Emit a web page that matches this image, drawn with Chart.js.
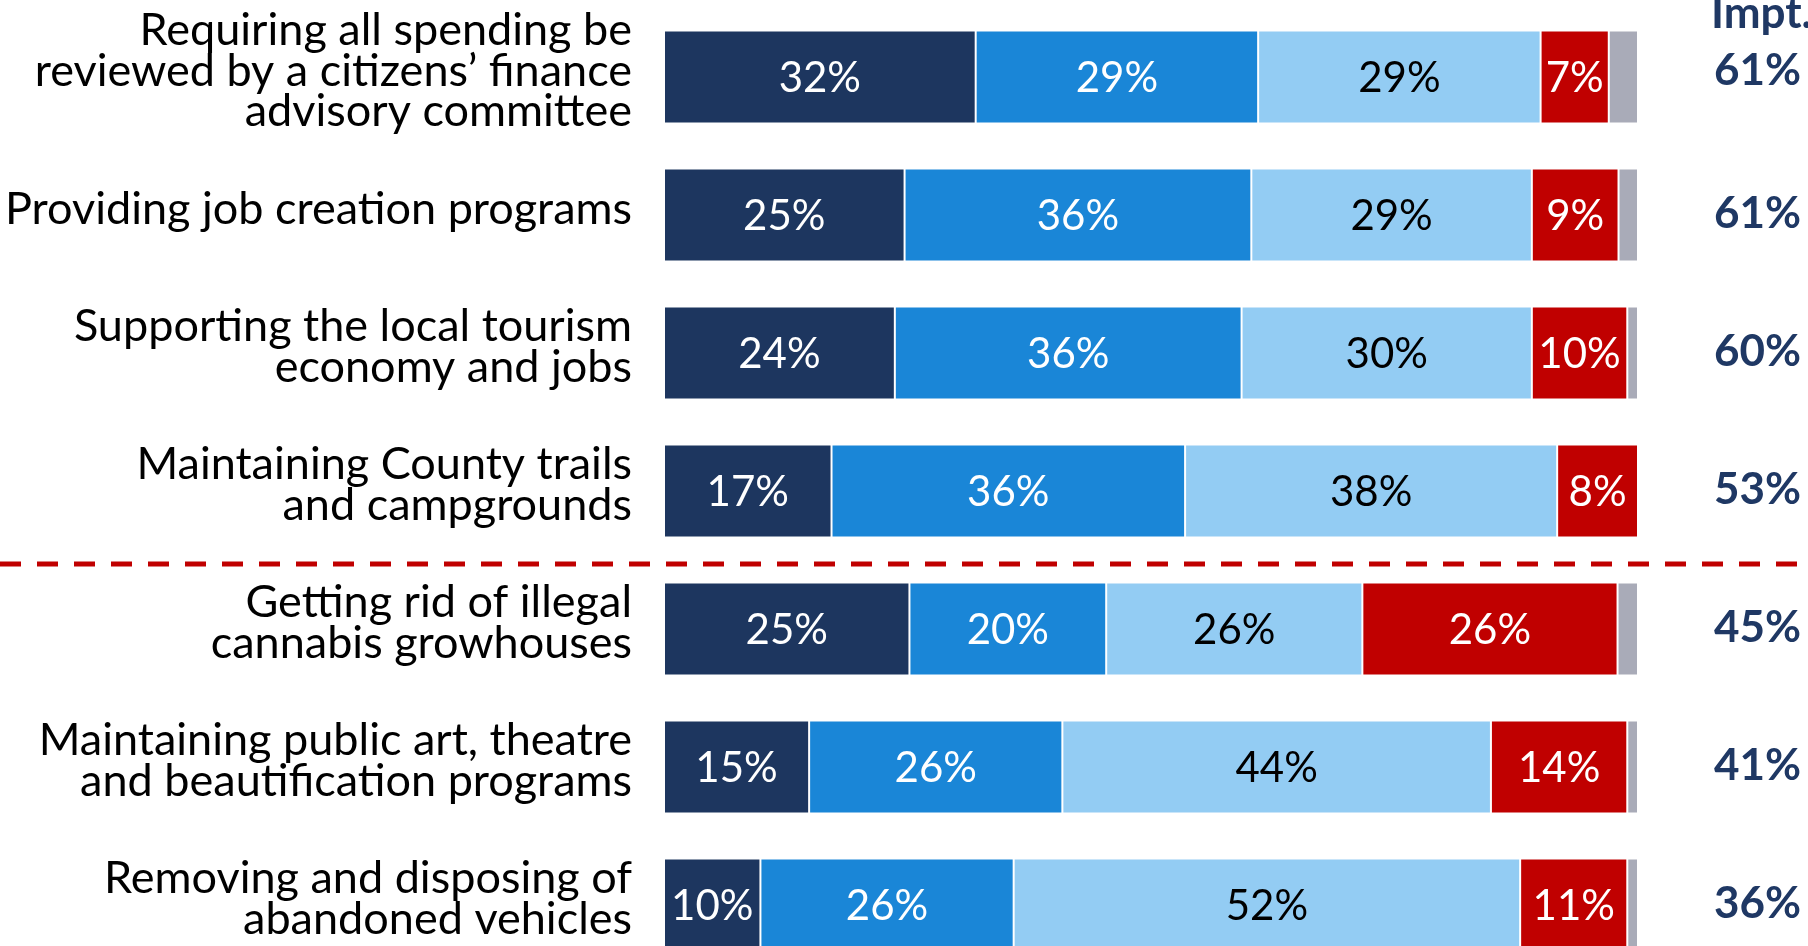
<!DOCTYPE html>
<html>
<head>
<meta charset="utf-8">
<script src="https://cdn.jsdelivr.net/npm/chart.js@4"></script>
<style>
  html, body { margin: 0; padding: 0; background: #fff; overflow: hidden; }
  #wrap { position: relative; width: 1808px; height: 980px; }
</style>
</head>
<body>
<div id="wrap"><canvas id="chart"></canvas></div>
<script>
const categories = [
  ["Requiring all spending be", "reviewed by a citizens\u2019 finance", "advisory committee"],
  "Providing job creation programs",
  ["Supporting the local tourism", "economy and jobs"],
  ["Maintaining County trails", "and campgrounds"],
  ["Getting rid of illegal", "cannabis growhouses"],
  ["Maintaining public art, theatre", "and beautification programs"],
  ["Removing and disposing of", "abandoned vehicles"]
];

// share of respondents per answer
const extremelyImportant = [32.0, 24.7, 23.7, 17.2, 25.2, 14.9, 9.9];
const veryImportant      = [29.0, 35.6, 35.6, 36.3, 20.2, 26.0, 26.0];
const somewhatImportant  = [29.0, 28.8, 29.8, 38.2, 26.3, 44.0, 52.0];
const notImportant       = [7.0, 8.9, 9.8, 8.3, 26.2, 14.0, 11.0];
const dontKnow           = [3.0, 2.0, 1.1, 0.0, 2.1, 1.1, 1.1];

// "Impt." column on the right
const totalImportant = [61, 61, 60, 53, 45, 41, 36];

const NAVY = "#1F3864";
const labelFont = "Lato, 'Open Sans', sans-serif";

const segmentText = {
  id: "segmentText",
  afterDatasetsDraw(chart) {
    const ctx = chart.ctx;
    ctx.save();
    ctx.textAlign = "center";
    ctx.textBaseline = "middle";
    ctx.font = "42px " + labelFont;
    chart.data.datasets.forEach((ds, di) => {
      if (!ds.textColor) return;
      const meta = chart.getDatasetMeta(di);
      meta.data.forEach((bar, i) => {
        const v = ds.data[i];
        if (!v) return;
        ctx.fillStyle = ds.textColor;
        ctx.fillText(Math.round(v) + "%", (bar.x + bar.base) / 2, bar.y + 1);
      });
    });

    // dashed divider between the 4th and 5th rows
    const y = chart.scales.y;
    const lineY = (y.getPixelForValue(3) + y.getPixelForValue(4)) / 2 + 4;
    ctx.strokeStyle = "#C00000";
    ctx.lineWidth = 5;
    ctx.setLineDash([21, 16]);
    ctx.beginPath();
    ctx.moveTo(0, lineY);
    ctx.lineTo(chart.width, lineY);
    ctx.stroke();
    ctx.setLineDash([]);

    // Impt. column
    ctx.fillStyle = NAVY;
    ctx.font = "bold 44px " + labelFont;
    ctx.textAlign = "right";
    ctx.textBaseline = "alphabetic";
    ctx.fillText("Impt.", 1812, 28);
    ctx.textBaseline = "middle";
    totalImportant.forEach((v, i) => {
      const off = i === 0 ? -6 : -1;
      ctx.fillText(v + "%", 1801, y.getPixelForValue(i) + off);
    });
    ctx.restore();
  }
};

const seg = (label, data, color, textColor) => ({
  label,
  data,
  backgroundColor: color,
  borderColor: "rgba(255,255,255,0.55)",
  borderWidth: 1,
  borderSkipped: false,
  textColor,
  barPercentage: 0.675,
  categoryPercentage: 1
});

new Chart(document.getElementById("chart"), {
  type: "bar",
  data: {
    labels: categories,
    datasets: [
      seg("Extremely important", extremelyImportant, "#1D365F", "#ffffff"),
      seg("Very important", veryImportant, "#1A86D7", "#ffffff"),
      seg("Somewhat important", somewhatImportant, "#93CCF3", "#000000"),
      seg("Not important", notImportant, "#C00000", "#ffffff"),
      seg("Don't know", dontKnow, "#A9ABB8", null)
    ]
  },
  options: {
    indexAxis: "y",
    responsive: true,
    maintainAspectRatio: false,
    animation: false,
    layout: { padding: { left: 0, right: 170, top: 8, bottom: 6 } },
    plugins: {
      legend: { display: false },
      tooltip: { enabled: false }
    },
    scales: {
      x: {
        stacked: true,
        min: 0,
        max: 100,
        display: false
      },
      y: {
        stacked: true,
        grid: { display: false, drawTicks: false, tickLength: 0 },
        border: { display: false },
        afterFit(scale) {
          scale.width = 664;
          scale.paddingTop = 0;
          scale.paddingBottom = 0;
        },
        ticks: {
          color: "#000000",
          padding: 32,
          labelOffset: -6,
          font: { family: labelFont, size: 45, lineHeight: 0.89 }
        }
      }
    }
  },
  plugins: [segmentText]
});
</script>
</body>
</html>
